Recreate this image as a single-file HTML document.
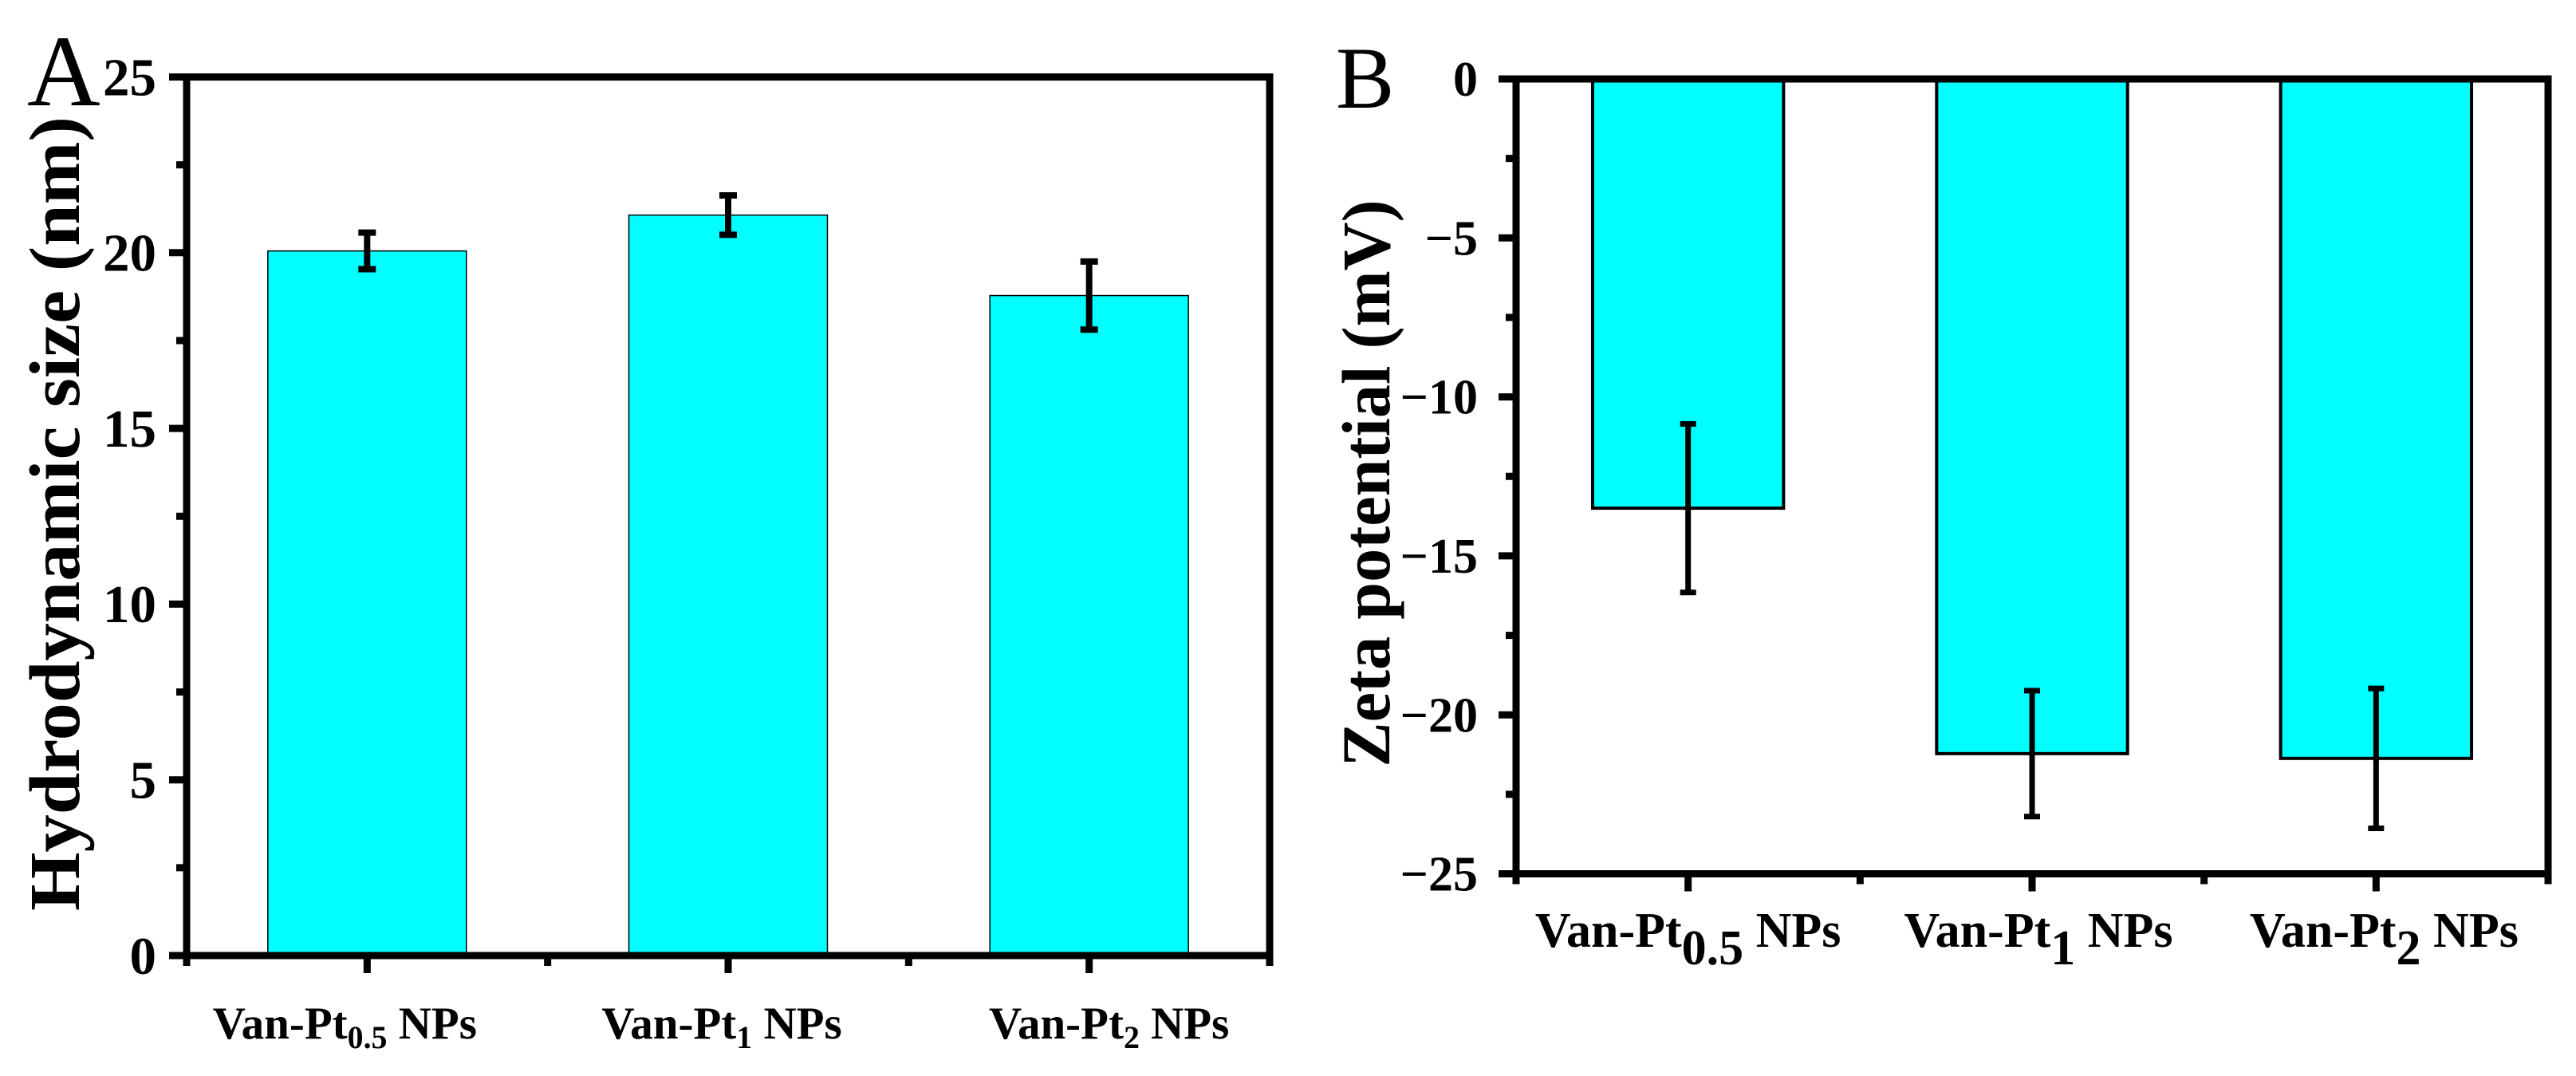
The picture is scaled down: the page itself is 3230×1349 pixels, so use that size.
<!DOCTYPE html>
<html><head><meta charset="utf-8"><style>
html,body{margin:0;padding:0;background:#fff;}
svg{display:block;font-family:"Liberation Serif","Times New Roman",serif;}
</style></head><body>
<svg id="chart" width="3230" height="1349" viewBox="0 0 3230 1349" xmlns="http://www.w3.org/2000/svg">
<rect width="3230" height="1349" fill="#fff"/>
<g id="panelA"></g>
<g id="panelB"></g>
</svg>
<script>
// Panel A data
const categoriesA = ["Van-Pt|0.5| NPs", "Van-Pt|1| NPs", "Van-Pt|2| NPs"];
const sizeValues = [20.05, 21.07, 18.78];
const sizeErrors = [0.52, 0.56, 0.97];
const sizeTicks = [0, 5, 10, 15, 20, 25];
const sizeTickLabels = ["0", "5", "10", "15", "20", "25"];
// Panel B data
const categoriesB = ["Van-Pt|0.5| NPs", "Van-Pt|1| NPs", "Van-Pt|2| NPs"];
const zetaValues = [-13.5, -21.22, -21.37];
const zetaErrors = [2.65, 1.98, 2.2];
const zetaTicks = [0, -5, -10, -15, -20, -25];
const zetaTickLabels = ["0", "\u22125", "\u221210", "\u221215", "\u221220", "\u221225"];

const NS = "http://www.w3.org/2000/svg";
function mk(parent, tag, attrs, text) {
  const e = document.createElementNS(NS, tag);
  for (const k in attrs) e.setAttribute(k, attrs[k]);
  if (text !== undefined) e.textContent = text;
  parent.appendChild(e);
  return e;
}

function drawPanel(g, cfg) {
  const L = cfg.left, R = cfg.right, T = cfg.top, B = cfg.bottom;
  const band = (R - L) / cfg.cats.length;
  const x = i => L + (i + 0.5) * band;
  const y = v => B - (v - cfg.ymin) / (cfg.ymax - cfg.ymin) * (B - T);
  const base = y(cfg.baseVal);

  // bars
  cfg.vals.forEach((v, i) => {
    const bw = band * cfg.barFrac;
    const y0 = Math.min(y(v), base), h = Math.abs(y(v) - base);
    const r = mk(g, "rect", {x: x(i) - bw / 2, y: y0, width: bw, height: h, fill: "#00ffff", stroke: "#000", "stroke-width": cfg.barStroke});
    
    
  });
  // error bars
  cfg.vals.forEach((v, i) => {
    const eg = mk(g, "g", {});
    
    
    const e = cfg.errs[i], cx = x(i);
    mk(eg, "line", {x1: cx, x2: cx, y1: y(v + e), y2: y(v - e), stroke: "#000", "stroke-width": cfg.errW});
    mk(eg, "line", {x1: cx - cfg.capW / 2, x2: cx + cfg.capW / 2, y1: y(v + e), y2: y(v + e), stroke: "#000", "stroke-width": cfg.errW});
    mk(eg, "line", {x1: cx - cfg.capW / 2, x2: cx + cfg.capW / 2, y1: y(v - e), y2: y(v - e), stroke: "#000", "stroke-width": cfg.errW});
  });
  // frame
  const fr = mk(g, "rect", {x: L, y: T, width: R - L, height: B - T, fill: "none", stroke: "#000", "stroke-width": 9});
  
  
  // y ticks
  const yax = mk(g, "g", {});
  
  
  cfg.ticks.forEach((t, i) => {
    mk(yax, "line", {x1: L - 22, x2: L, y1: y(t), y2: y(t), stroke: "#000", "stroke-width": 9});
    const lb = mk(yax, "text", {x: cfg.tickLabelRight, y: y(t) + cfg.tickFont * 0.34, "text-anchor": "end", "font-size": cfg.tickFont, "font-weight": "bold"}, cfg.tickLabels[i]);
    
    
    if (i < cfg.ticks.length - 1) {
      const m = (t + cfg.ticks[i + 1]) / 2;
      mk(yax, "line", {x1: L - 13, x2: L, y1: y(m), y2: y(m), stroke: "#000", "stroke-width": 9});
    }
  });
  // x ticks
  const xax = mk(g, "g", {});
  
  
  for (let i = 0; i <= cfg.cats.length; i++) {
    const xx = L + i * band;
    mk(xax, "line", {x1: xx, x2: xx, y1: B, y2: B + 13, stroke: "#000", "stroke-width": 9});
  }
  cfg.cats.forEach((c, i) => {
    mk(xax, "line", {x1: x(i), x2: x(i), y1: B, y2: B + 22, stroke: "#000", "stroke-width": 9});
    const parts = c.split("|");
    const t = mk(xax, "text", {x: x(i) + cfg.labelOffsets[i], y: cfg.labelBaseline, "text-anchor": "middle", "font-size": cfg.labelFont, "font-weight": "bold"});
    
    
    mk(t, "tspan", {}, parts[0]);
    mk(t, "tspan", {"font-size": cfg.labelFont * cfg.subScale, dy: cfg.subDy}, parts[1]);
    mk(t, "tspan", {dy: -cfg.subDy}, "\u00a0" + parts[2].trim());
  });
  // title
  const tt = mk(g, "text", {x: 0, y: 0, transform: "translate(" + cfg.titleX + "," + cfg.titleY + ") rotate(-90)", "text-anchor": "middle", "font-size": cfg.titleFont, "font-weight": "bold", textLength: cfg.titleLen, lengthAdjust: "spacingAndGlyphs"}, cfg.title);
  
  
  const pl = mk(g, "text", {x: cfg.letterX, y: cfg.letterY, "font-size": cfg.letterFont}, cfg.letter);
  
  
}

drawPanel(document.getElementById("panelA"), {
  left: 234, right: 1592, top: 96.5, bottom: 1198, ymin: 0, ymax: 25, baseVal: 0,
  cats: categoriesA, vals: sizeValues, errs: sizeErrors, ticks: sizeTicks, tickLabels: sizeTickLabels,
  barFrac: 0.55, barStroke: 1.5, errW: 8, capW: 22,
  tickLabelRight: 196, tickFont: 67,
  labelFont: 57, subScale: 0.7, subDy: 12, labelBaseline: 1302, labelOffsets: [-28, -8, 25],
  title: "Hydrodynamic size (nm)", titleX: 99, titleY: 644, titleFont: 90, titleLen: 996,
  letter: "A", letterX: 34, letterY: 132, letterFont: 127
});
drawPanel(document.getElementById("panelB"), {
  left: 1901, right: 3195, top: 99, bottom: 1095.5, ymin: -25, ymax: 0, baseVal: 0,
  cats: categoriesB, vals: zetaValues, errs: zetaErrors, ticks: zetaTicks, tickLabels: zetaTickLabels,
  barFrac: 0.555, barStroke: 4, errW: 7, capW: 20,
  tickLabelRight: 1853, tickFont: 62,
  labelFont: 62, subScale: 1, subDy: 22, labelBaseline: 1187, labelOffsets: [0, 8, 10],
  title: "Zeta potential (mV)", titleX: 1742, titleY: 606, titleFont: 86, titleLen: 711,
  letter: "B", letterX: 1675, letterY: 135, letterFont: 110
});
</script>
</body></html>
